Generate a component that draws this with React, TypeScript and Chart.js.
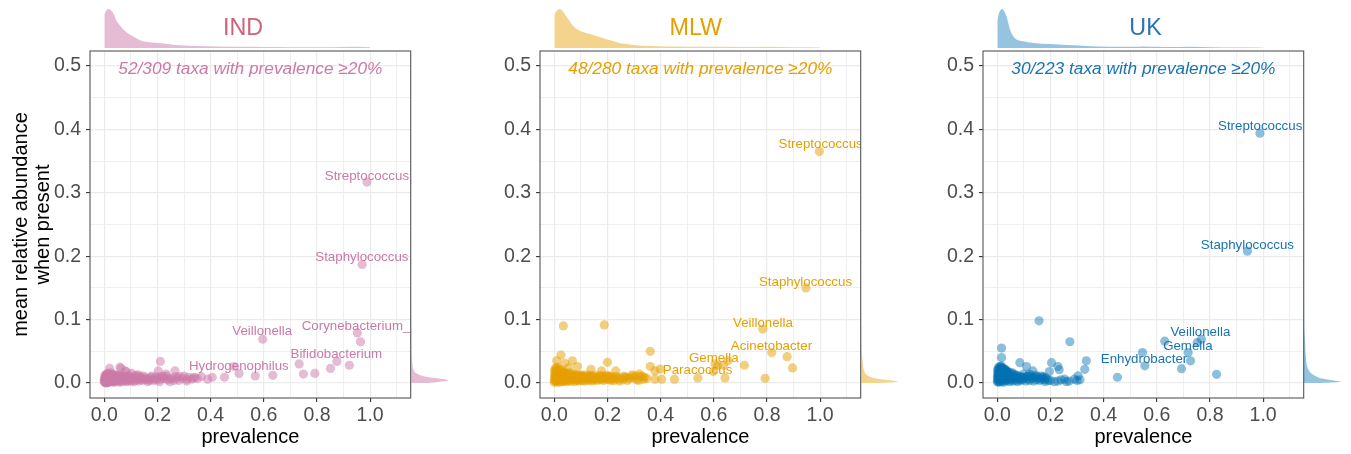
import { useEffect, useRef } from "react";
import { Chart, registerables } from "chart.js";

Chart.register(...registerables);

const FONT = '"Liberation Sans", Arial, Helvetica, sans-serif';

// shared axis ranges (ggplot expanded limits)
const X_MIN = -0.0538;
const X_MAX = 1.1527;
const Y_MIN = -0.0237;
const Y_MAX = 0.5237;

const panelNames = ["IND", "MLW", "UK"];
const annotations = [
  "52/309 taxa with prevalence ≥20%",
  "48/280 taxa with prevalence ≥20%",
  "30/223 taxa with prevalence ≥20%",
];

// ---------------- IND ----------------
const indPoints: [number, number][] = [
  [0.988, 0.317], [0.970, 0.187], [0.596, 0.069], [0.952, 0.079], [0.964, 0.065],
  [0.733, 0.030], [0.875, 0.034], [0.851, 0.023], [0.922, 0.028], [0.749, 0.014],
  [0.792, 0.015], [0.634, 0.012], [0.568, 0.011], [0.507, 0.015], [0.489, 0.026],
  [0.452, 0.009], [0.406, 0.009], [0.389, 0.006], [0.341, 0.009], [0.329, 0.006],
  [0.310, 0.006], [0.211, 0.034], [0.203, 0.019], [0.266, 0.019], [0.232, 0.014],
  [0.285, 0.010], [0.247, 0.002], [0.020, 0.023], [0.059, 0.025], [0.078, 0.019],
  [0.103, 0.015], [0.128, 0.013], [0.063, 0.023], [0.082, 0.018],
  [0.000, 0.002], [0.000, 0.006], [0.002, 0.010], [0.003, 0.001], [0.004, 0.004],
  [0.005, 0.013], [0.006, 0.007], [0.007, 0.002], [0.008, 0.009], [0.009, 0.004],
  [0.010, 0.000], [0.011, 0.011], [0.012, 0.006], [0.013, 0.003], [0.014, 0.015],
  [0.015, 0.008], [0.016, 0.001], [0.017, 0.005], [0.018, 0.010], [0.019, 0.003],
  [0.020, 0.007], [0.022, 0.012], [0.023, 0.002], [0.025, 0.005], [0.026, 0.009],
  [0.028, 0.003], [0.030, 0.006], [0.031, 0.014], [0.033, 0.002], [0.035, 0.008],
  [0.037, 0.004], [0.039, 0.011], [0.041, 0.006], [0.043, 0.002], [0.045, 0.009],
  [0.047, 0.004], [0.050, 0.007], [0.052, 0.012], [0.054, 0.003], [0.057, 0.006],
  [0.060, 0.009], [0.062, 0.004], [0.065, 0.007], [0.068, 0.002], [0.070, 0.010],
  [0.073, 0.005], [0.076, 0.008], [0.079, 0.003], [0.082, 0.006], [0.085, 0.011],
  [0.088, 0.004], [0.091, 0.007], [0.094, 0.005], [0.097, 0.009], [0.100, 0.003],
  [0.104, 0.006], [0.108, 0.008], [0.112, 0.004], [0.116, 0.007], [0.120, 0.010],
  [0.124, 0.005], [0.128, 0.003], [0.132, 0.007], [0.136, 0.005], [0.140, 0.009],
  [0.145, 0.004], [0.150, 0.006], [0.155, 0.008], [0.160, 0.005], [0.165, 0.007],
  [0.170, 0.004], [0.175, 0.009], [0.180, 0.006], [0.186, 0.004], [0.192, 0.007],
  [0.198, 0.005], [0.205, 0.009], [0.212, 0.006], [0.218, 0.011], [0.225, 0.007],
  [0.238, 0.005], [0.255, 0.007], [0.262, 0.004], [0.275, 0.008], [0.295, 0.007],
  [0.318, 0.009], [0.335, 0.008], [0.350, 0.007], [0.365, 0.010],
  [0.001, 0.004], [0.002, 0.001], [0.003, 0.007], [0.004, 0.012], [0.005, 0.003],
  [0.006, 0.000], [0.007, 0.009], [0.008, 0.005], [0.009, 0.014], [0.010, 0.008],
  [0.011, 0.002], [0.012, 0.010], [0.013, 0.006], [0.014, 0.001], [0.015, 0.012],
  [0.017, 0.008], [0.019, 0.013], [0.021, 0.004], [0.023, 0.009], [0.024, 0.016],
  [0.027, 0.007], [0.029, 0.011], [0.032, 0.005], [0.034, 0.012], [0.036, 0.001],
  [0.040, 0.009], [0.044, 0.013], [0.048, 0.006], [0.055, 0.010], [0.058, 0.001],
  [0.063, 0.012], [0.071, 0.007], [0.078, 0.010], [0.086, 0.002], [0.096, 0.012],
  [0.110, 0.002], [0.118, 0.012], [0.134, 0.010], [0.148, 0.011], [0.163, 0.002],
  [0.178, 0.011], [0.195, 0.010], [0.208, 0.002], [0.222, 0.010], [0.235, 0.011],
  [0.245, 0.007], [0.268, 0.010], [0.280, 0.004], [0.300, 0.011], [0.310, 0.003],
];
const indLabelNames = ["Streptococcus", "Staphylococcus", "Veillonella", "Corynebacterium_1", "Bifidobacterium", "Hydrogenophilus"];
const indLabelX = [0.988, 0.969, 0.594, 0.961, 0.873, 0.506];
const indLabelY = [0.325, 0.196, 0.080, 0.087, 0.043, 0.024];
const indTopX = [0, 0.008, 0.015, 0.025, 0.034, 0.044, 0.06, 0.073, 0.09, 0.107, 0.125, 0.144, 0.17, 0.207, 0.25, 0.282, 0.35, 0.42, 0.5, 0.6, 0.7, 0.8, 0.9, 0.95, 1.0];
const indTopDensity = [0.85, 0.97, 1.0, 0.96, 0.89, 0.72, 0.57, 0.47, 0.37, 0.3, 0.23, 0.17, 0.15, 0.13, 0.09, 0.07, 0.05, 0.04, 0.03, 0.025, 0.02, 0.02, 0.025, 0.03, 0.02];
const indSideY = [0, 0.002, 0.004, 0.006, 0.008, 0.010, 0.013, 0.016, 0.020, 0.025, 0.030, 0.040, 0.050, 0.065, 0.080, 0.100, 0.150, 0.180, 0.187, 0.195, 0.250, 0.310, 0.317, 0.325];
const indSideDensity = [0.45, 0.8, 1.0, 0.9, 0.65, 0.4, 0.22, 0.12, 0.07, 0.05, 0.035, 0.02, 0.015, 0.012, 0.01, 0.004, 0.0, 0.0, 0.012, 0.0, 0.0, 0.0, 0.012, 0.0];

// ---------------- MLW ----------------
const mlwPoints: [number, number][] = [
  [0.997, 0.365], [0.947, 0.150], [0.784, 0.085], [0.818, 0.048], [0.876, 0.0415],
  [0.896, 0.0237], [0.793, 0.0074], [0.715, 0.028], [0.653, 0.035], [0.605, 0.030],
  [0.615, 0.027], [0.598, 0.018], [0.636, 0.028], [0.642, 0.008], [0.540, 0.008],
  [0.452, 0.006], [0.361, 0.050], [0.361, 0.026], [0.379, 0.019], [0.398, 0.022],
  [0.404, 0.006], [0.379, 0.006], [0.348, 0.007], [0.320, 0.014], [0.294, 0.013],
  [0.266, 0.009], [0.200, 0.0326], [0.231, 0.019], [0.178, 0.019], [0.138, 0.0216],
  [0.068, 0.035], [0.087, 0.026], [0.025, 0.044], [0.009, 0.035], [0.040, 0.031],
  [0.053, 0.024], [0.034, 0.090], [0.188, 0.0915],
  [0.000, 0.001], [0.000, 0.005], [0.001, 0.009], [0.002, 0.014], [0.003, 0.003],
  [0.004, 0.018], [0.005, 0.007], [0.006, 0.011], [0.007, 0.002], [0.008, 0.022],
  [0.009, 0.005], [0.010, 0.013], [0.011, 0.008], [0.012, 0.016], [0.013, 0.003],
  [0.014, 0.010], [0.015, 0.006], [0.016, 0.020], [0.017, 0.001], [0.018, 0.012],
  [0.019, 0.004], [0.020, 0.009], [0.021, 0.015], [0.022, 0.006], [0.024, 0.011],
  [0.025, 0.002], [0.026, 0.017], [0.027, 0.007], [0.029, 0.004], [0.030, 0.012],
  [0.032, 0.009], [0.033, 0.002], [0.035, 0.014], [0.036, 0.006], [0.038, 0.010],
  [0.040, 0.003], [0.041, 0.008], [0.043, 0.013], [0.045, 0.005], [0.047, 0.009],
  [0.049, 0.002], [0.051, 0.011], [0.053, 0.006], [0.055, 0.004], [0.058, 0.008],
  [0.060, 0.012], [0.062, 0.003], [0.065, 0.007], [0.067, 0.010], [0.070, 0.005],
  [0.073, 0.008], [0.076, 0.002], [0.078, 0.011], [0.081, 0.006], [0.084, 0.004],
  [0.087, 0.009], [0.090, 0.006], [0.093, 0.003], [0.096, 0.008], [0.099, 0.005],
  [0.103, 0.010], [0.106, 0.004], [0.110, 0.007], [0.114, 0.003], [0.118, 0.009],
  [0.122, 0.006], [0.126, 0.004], [0.130, 0.008], [0.134, 0.005], [0.138, 0.010],
  [0.142, 0.003], [0.146, 0.007], [0.150, 0.005], [0.155, 0.009], [0.160, 0.004],
  [0.165, 0.007], [0.170, 0.005], [0.175, 0.010], [0.180, 0.006], [0.185, 0.004],
  [0.190, 0.008], [0.195, 0.006], [0.200, 0.010], [0.205, 0.005], [0.210, 0.008],
  [0.215, 0.004], [0.220, 0.007], [0.228, 0.009], [0.240, 0.006], [0.250, 0.008],
  [0.258, 0.005], [0.270, 0.009], [0.282, 0.007], [0.300, 0.008], [0.310, 0.005],
  [0.322, 0.010], [0.335, 0.006],
  [0.001, 0.020], [0.003, 0.012], [0.005, 0.024], [0.006, 0.016], [0.008, 0.010],
  [0.010, 0.019], [0.012, 0.025], [0.014, 0.015], [0.016, 0.009], [0.018, 0.018],
  [0.020, 0.022], [0.023, 0.013], [0.026, 0.008], [0.028, 0.019], [0.031, 0.015],
  [0.034, 0.011], [0.037, 0.017], [0.039, 0.006], [0.042, 0.016], [0.046, 0.012],
  [0.050, 0.015], [0.054, 0.010], [0.057, 0.013], [0.061, 0.016], [0.066, 0.012],
  [0.071, 0.014], [0.075, 0.010], [0.080, 0.013], [0.085, 0.012], [0.092, 0.011],
  [0.098, 0.013], [0.105, 0.012], [0.112, 0.010], [0.120, 0.013], [0.128, 0.011],
  [0.136, 0.012], [0.144, 0.010], [0.152, 0.012], [0.158, 0.008], [0.168, 0.011],
  [0.178, 0.012], [0.188, 0.010], [0.198, 0.012], [0.208, 0.011], [0.218, 0.010],
  [0.225, 0.004], [0.235, 0.010], [0.245, 0.003], [0.262, 0.011], [0.275, 0.004],
  [0.290, 0.010], [0.305, 0.011], [0.318, 0.004], [0.330, 0.011], [0.340, 0.009],
];
const mlwLabelNames = ["Streptococcus", "Staphylococcus", "Veillonella", "Acinetobacter", "Gemella", "Paracoccus"];
const mlwLabelX = [1.002, 0.945, 0.785, 0.817, 0.600, 0.539];
const mlwLabelY = [0.375, 0.157, 0.093, 0.056, 0.038, 0.018];
const mlwTopX = [0, 0.01, 0.021, 0.033, 0.046, 0.06, 0.073, 0.09, 0.107, 0.125, 0.144, 0.17, 0.194, 0.22, 0.245, 0.275, 0.307, 0.36, 0.42, 0.5, 0.61, 0.7, 0.8, 0.9, 1.0];
const mlwTopDensity = [0.85, 0.96, 1.0, 0.93, 0.8, 0.66, 0.55, 0.46, 0.41, 0.37, 0.34, 0.28, 0.23, 0.18, 0.13, 0.1, 0.07, 0.05, 0.04, 0.035, 0.03, 0.025, 0.035, 0.02, 0.015];
const mlwSideY = [0, 0.002, 0.004, 0.006, 0.008, 0.011, 0.015, 0.020, 0.030, 0.040, 0.050, 0.070, 0.090, 0.100, 0.150, 0.365];
const mlwSideDensity = [0.55, 1.0, 0.85, 0.55, 0.35, 0.2, 0.12, 0.08, 0.05, 0.035, 0.02, 0.008, 0.01, 0.003, 0.002, 0.0];

// ---------------- UK ----------------
const ukPoints: [number, number][] = [
  [0.988, 0.394], [0.941, 0.208], [0.157, 0.098], [0.273, 0.065], [0.016, 0.055],
  [0.016, 0.040], [0.085, 0.032], [0.110, 0.026], [0.134, 0.019], [0.204, 0.032],
  [0.228, 0.026], [0.233, 0.021], [0.196, 0.018], [0.335, 0.035], [0.329, 0.0216],
  [0.304, 0.0113], [0.311, 0.005], [0.253, 0.006], [0.260, 0.002], [0.228, 0.003],
  [0.452, 0.009], [0.546, 0.048], [0.555, 0.027], [0.630, 0.066], [0.718, 0.048],
  [0.727, 0.035], [0.693, 0.0226], [0.752, 0.0636], [0.768, 0.069], [0.825, 0.0137],
  [0.200, 0.004], [0.215, 0.002], [0.240, 0.005], [0.270, 0.003], [0.290, 0.006],
  [0.300, 0.004], [0.120, 0.014], [0.145, 0.012], [0.170, 0.008], [0.180, 0.002],
  [0.000, 0.002], [0.000, 0.008], [0.001, 0.014], [0.002, 0.005], [0.003, 0.019],
  [0.004, 0.010], [0.005, 0.001], [0.006, 0.016], [0.007, 0.007], [0.008, 0.022],
  [0.009, 0.004], [0.010, 0.012], [0.011, 0.018], [0.012, 0.002], [0.013, 0.009],
  [0.014, 0.025], [0.015, 0.006], [0.016, 0.014], [0.017, 0.020], [0.018, 0.003],
  [0.019, 0.011], [0.020, 0.017], [0.021, 0.007], [0.022, 0.023], [0.023, 0.001],
  [0.024, 0.013], [0.025, 0.009], [0.026, 0.019], [0.027, 0.005], [0.028, 0.015],
  [0.030, 0.010], [0.031, 0.003], [0.032, 0.021], [0.033, 0.012], [0.035, 0.007],
  [0.036, 0.017], [0.038, 0.004], [0.039, 0.011], [0.041, 0.014], [0.043, 0.006],
  [0.045, 0.009], [0.047, 0.002], [0.049, 0.012], [0.051, 0.005], [0.054, 0.008],
  [0.056, 0.016], [0.058, 0.003], [0.061, 0.010], [0.064, 0.006], [0.067, 0.013],
  [0.070, 0.004], [0.073, 0.008], [0.076, 0.002], [0.079, 0.011], [0.083, 0.006],
  [0.087, 0.004], [0.091, 0.009], [0.095, 0.005], [0.099, 0.014], [0.103, 0.007],
  [0.107, 0.003], [0.112, 0.010], [0.117, 0.006], [0.122, 0.004], [0.127, 0.012],
  [0.132, 0.007], [0.137, 0.003], [0.142, 0.009], [0.148, 0.005], [0.154, 0.008],
  [0.160, 0.004], [0.166, 0.006], [0.172, 0.010], [0.178, 0.005], [0.185, 0.007],
  [0.192, 0.004],
  [0.001, 0.021], [0.002, 0.011], [0.003, 0.003], [0.004, 0.024], [0.005, 0.015],
  [0.006, 0.009], [0.007, 0.019], [0.008, 0.013], [0.009, 0.026], [0.010, 0.006],
  [0.011, 0.023], [0.012, 0.016], [0.013, 0.020], [0.015, 0.027], [0.016, 0.010],
  [0.018, 0.024], [0.019, 0.016], [0.021, 0.012], [0.023, 0.018], [0.025, 0.022],
  [0.027, 0.013], [0.029, 0.020], [0.031, 0.016], [0.034, 0.019], [0.037, 0.013],
  [0.040, 0.018], [0.044, 0.012], [0.048, 0.016], [0.053, 0.011], [0.059, 0.014],
  [0.065, 0.009], [0.072, 0.012], [0.080, 0.008], [0.088, 0.010], [0.100, 0.009],
  [0.115, 0.011], [0.130, 0.009], [0.150, 0.010], [0.165, 0.011], [0.180, 0.009],
];
const ukLabelNames = ["Streptococcus", "Staphylococcus", "Veillonella", "Gemella", "Enhydrobacter"];
const ukLabelX = [0.989, 0.941, 0.764, 0.717, 0.552];
const ukLabelY = [0.403, 0.216, 0.078, 0.057, 0.036];
const ukTopX = [0, 0.008, 0.019, 0.027, 0.035, 0.048, 0.066, 0.08, 0.098, 0.135, 0.198, 0.26, 0.32, 0.386, 0.45, 0.51, 0.55, 0.6, 0.65, 0.72, 0.8, 0.9, 1.0];
const ukTopDensity = [0.72, 0.92, 1.0, 0.93, 0.8, 0.47, 0.25, 0.2, 0.17, 0.13, 0.1, 0.076, 0.06, 0.04, 0.03, 0.03, 0.04, 0.03, 0.025, 0.035, 0.02, 0.01, 0.008];
const ukSideY = [0, 0.002, 0.004, 0.007, 0.010, 0.015, 0.020, 0.030, 0.040, 0.055, 0.065, 0.070, 0.100, 0.200, 0.394];
const ukSideDensity = [0.5, 1.0, 0.8, 0.5, 0.35, 0.2, 0.13, 0.07, 0.05, 0.035, 0.03, 0.02, 0.005, 0.002, 0.0];

// ---------------- styling / layout ----------------
const pointColors = ["rgba(204,121,167,0.5)", "rgba(230,159,0,0.5)", "rgba(0,114,178,0.45)"];
const densityColors = ["rgba(204,121,167,0.5)", "rgba(230,159,0,0.45)", "rgba(0,114,178,0.42)"];
const textColors = ["#cc79a7", "#e69f00", "#1a73b0"];
const titleColors = ["#cf627a", "#e69f00", "#2a74b4"];

const PANEL_LEFT = [0, 450, 893];
const TITLE_X = [243, 245.8, 252.5];
const PANEL_W = 450;
const PANEL_H = 454;
const PLOT_LEFT = 90;
const PLOT_RIGHT = 410.7;
const PLOT_TOP = 51;
const PLOT_BOTTOM = 398;

type PanelData = {
  points: [number, number][];
  labelNames: string[];
  labelX: number[];
  labelY: number[];
  topX: number[];
  topD: number[];
  sideY: number[];
  sideD: number[];
};

const panels: PanelData[] = [
  { points: indPoints, labelNames: indLabelNames, labelX: indLabelX, labelY: indLabelY, topX: indTopX, topD: indTopDensity, sideY: indSideY, sideD: indSideDensity },
  { points: mlwPoints, labelNames: mlwLabelNames, labelX: mlwLabelX, labelY: mlwLabelY, topX: mlwTopX, topD: mlwTopDensity, sideY: mlwSideY, sideD: mlwSideDensity },
  { points: ukPoints, labelNames: ukLabelNames, labelX: ukLabelX, labelY: ukLabelY, topX: ukTopX, topD: ukTopDensity, sideY: ukSideY, sideD: ukSideDensity },
];

const isMajorX = (v: number) => Math.abs(v * 5 - Math.round(v * 5)) < 1e-6 && v < 1.05;
const isMajorY = (v: number) => Math.abs(v * 10 - Math.round(v * 10)) < 1e-6;

function mainConfig(i: number): any {
  const p = panels[i];
  const deco = {
    id: "deco" + i,
    afterDatasetsDraw(chart: any) {
      const { ctx, chartArea: a, scales } = chart;
      const xs = scales.x;
      const ys = scales.y;
      ctx.save();
      // labels (clipped to panel)
      ctx.save();
      ctx.beginPath();
      ctx.rect(a.left, a.top, a.right - a.left, a.bottom - a.top);
      ctx.clip();
      ctx.font = `13.3px ${FONT}`;
      ctx.fillStyle = textColors[i];
      ctx.textAlign = "center";
      ctx.textBaseline = "middle";
      p.labelNames.forEach((n, k) => {
        ctx.fillText(n, xs.getPixelForValue(p.labelX[k]), ys.getPixelForValue(p.labelY[k]) - 1);
      });
      ctx.restore();
      // border
      ctx.strokeStyle = "#555555";
      ctx.lineWidth = 1.1;
      ctx.strokeRect(a.left, a.top, a.right - a.left, a.bottom - a.top);
      // annotation
      ctx.font = `italic 17.3px ${FONT}`;
      ctx.fillStyle = textColors[i];
      ctx.textAlign = "center";
      ctx.textBaseline = "alphabetic";
      ctx.fillText(annotations[i], (a.left + a.right) / 2, 74);
      // panel title
      ctx.font = `23.3px ${FONT}`;
      ctx.fillStyle = titleColors[i];
      ctx.fillText(panelNames[i], TITLE_X[i], 35);
      // x-axis title
      ctx.font = `20px ${FONT}`;
      ctx.fillStyle = "#000000";
      ctx.fillText("prevalence", (a.left + a.right) / 2, 442.7);
      // y-axis title (first panel only)
      if (i === 0) {
        const cy = (a.top + a.bottom) / 2;
        ctx.textBaseline = "alphabetic";
        ctx.save();
        ctx.translate(27, cy);
        ctx.rotate(-Math.PI / 2);
        ctx.fillText("mean relative abundance", 0, 0);
        ctx.restore();
        ctx.save();
        ctx.translate(49, cy);
        ctx.rotate(-Math.PI / 2);
        ctx.fillText("when present", 0, 0);
        ctx.restore();
      }
      ctx.restore();
    },
  };

  return {
    type: "scatter",
    data: {
      datasets: [
        {
          data: p.points.map(([x, y]) => ({ x, y })),
          backgroundColor: pointColors[i],
          borderWidth: 0,
          pointRadius: 4.6,
          pointHoverRadius: 4.6,
        },
      ],
    },
    options: {
      animation: false,
      responsive: false,
      devicePixelRatio: 1,
      events: [],
      layout: { padding: { left: 0, top: PLOT_TOP, right: PANEL_W - PLOT_RIGHT, bottom: 0 } },
      plugins: { legend: { display: false }, tooltip: { enabled: false } },
      scales: {
        x: {
          type: "linear",
          min: X_MIN,
          max: X_MAX,
          afterFit: (s: any) => {
            s.height = PANEL_H - PLOT_BOTTOM;
          },
          border: { display: false },
          grid: {
            color: "#ebebeb",
            lineWidth: (c: any) => (c.tick && isMajorX(c.tick.value) ? 1.2 : 0.8),
            drawTicks: true,
            tickLength: 4,
            tickWidth: 1.1,
            tickColor: (c: any) => (c.tick && isMajorX(c.tick.value) ? "#333333" : "rgba(0,0,0,0)"),
          },
          ticks: {
            stepSize: 0.1,
            includeBounds: false,
            autoSkip: false,
            maxRotation: 0,
            padding: 2,
            color: "#4d4d4d",
            font: { family: FONT, size: 19.5 },
            callback: (v: number) => (isMajorX(v) ? v.toFixed(1) : ""),
          },
        },
        y: {
          type: "linear",
          min: Y_MIN,
          max: Y_MAX,
          afterFit: (s: any) => {
            s.width = PLOT_LEFT;
          },
          border: { display: false },
          grid: {
            color: "#ebebeb",
            lineWidth: (c: any) => (c.tick && isMajorY(c.tick.value) ? 1.2 : 0.8),
            drawTicks: true,
            tickLength: 4,
            tickWidth: 1.1,
            tickColor: (c: any) => (c.tick && isMajorY(c.tick.value) ? "#333333" : "rgba(0,0,0,0)"),
          },
          ticks: {
            stepSize: 0.05,
            includeBounds: false,
            autoSkip: false,
            padding: 5,
            color: "#4d4d4d",
            font: { family: FONT, size: 19.5 },
            callback: (v: number) => (isMajorY(v) ? v.toFixed(1) : ""),
          },
        },
      },
    },
    plugins: [deco],
  };
}

function topConfig(i: number): any {
  const p = panels[i];
  return {
    type: "line",
    data: {
      datasets: [
        {
          data: p.topX.map((x, k) => ({ x, y: p.topD[k] })),
          fill: "origin",
          backgroundColor: densityColors[i],
          borderWidth: 0,
          pointRadius: 0,
          cubicInterpolationMode: "monotone",
        },
      ],
    },
    options: {
      animation: false,
      responsive: false,
      devicePixelRatio: 1,
      events: [],
      layout: { padding: 0 },
      plugins: { legend: { display: false }, tooltip: { enabled: false } },
      scales: {
        x: { type: "linear", min: X_MIN, max: X_MAX, display: false },
        y: { type: "linear", min: 0, max: 1, display: false },
      },
    },
  };
}

function sideConfig(i: number): any {
  const p = panels[i];
  return {
    type: "line",
    data: {
      datasets: [
        {
          data: p.sideY.map((y, k) => ({ x: p.sideD[k], y })),
          fill: "origin",
          backgroundColor: densityColors[i],
          borderWidth: 0,
          pointRadius: 0,
          cubicInterpolationMode: "monotone",
        },
      ],
    },
    options: {
      indexAxis: "y",
      animation: false,
      responsive: false,
      devicePixelRatio: 1,
      events: [],
      layout: { padding: 0 },
      plugins: { legend: { display: false }, tooltip: { enabled: false } },
      scales: {
        x: { type: "linear", min: 0, max: 1, display: false },
        y: { type: "linear", min: Y_MIN, max: Y_MAX, display: false },
      },
    },
  };
}

export default function App() {
  const mainRefs = useRef<(HTMLCanvasElement | null)[]>([]);
  const topRefs = useRef<(HTMLCanvasElement | null)[]>([]);
  const sideRefs = useRef<(HTMLCanvasElement | null)[]>([]);

  useEffect(() => {
    const charts: Chart[] = [];
    for (let i = 0; i < 3; i++) {
      const m = mainRefs.current[i];
      const t = topRefs.current[i];
      const s = sideRefs.current[i];
      if (m) charts.push(new Chart(m, mainConfig(i)));
      if (t) charts.push(new Chart(t, topConfig(i)));
      if (s) charts.push(new Chart(s, sideConfig(i)));
    }
    return () => charts.forEach((c) => c.destroy());
  }, []);

  const abs = (left: number, top: number, w: number, h: number): any => ({
    position: "absolute",
    left,
    top,
    width: w,
    height: h,
  });

  return (
    <div style={{ position: "fixed", left: 0, top: 0, width: 1351, height: 454, background: "#ffffff", overflow: "hidden" }}>
      {[0, 1, 2].map((i) => (
        <div key={i}>
          <canvas
            ref={(el) => { mainRefs.current[i] = el; }}
            width={PANEL_W}
            height={PANEL_H}
            style={abs(PANEL_LEFT[i], 0, PANEL_W, PANEL_H)}
          />
          <canvas
            ref={(el) => { topRefs.current[i] = el; }}
            width={321}
            height={39}
            style={abs(PANEL_LEFT[i] + PLOT_LEFT, 9, 321, 39)}
          />
          <canvas
            ref={(el) => { sideRefs.current[i] = el; }}
            width={37}
            height={PLOT_BOTTOM - PLOT_TOP}
            style={abs(PANEL_LEFT[i] + 411, PLOT_TOP, 37, PLOT_BOTTOM - PLOT_TOP)}
          />
        </div>
      ))}
    </div>
  );
}
